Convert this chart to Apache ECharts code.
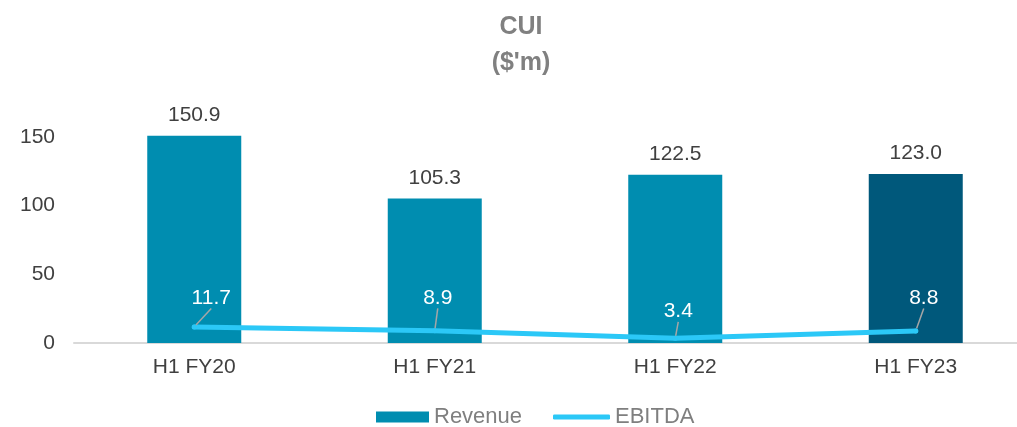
<!DOCTYPE html>
<html>
<head>
<meta charset="utf-8">
<script src="https://cdn.jsdelivr.net/npm/echarts@6/dist/echarts.min.js"></script>
<style>
  html, body { margin: 0; padding: 0; background: #ffffff; }
  #chart { width: 1017px; height: 427px; }
</style>
</head>
<body>
<div id="chart"></div>
<script>
// data
var periods = ['H1 FY20', 'H1 FY21', 'H1 FY22', 'H1 FY23']
var revenue = [150.9, 105.3, 122.5, 123.0]
var ebitda = [11.7, 8.9, 3.4, 8.8]
var yTicks = [0, 50, 100, 150]

// label nudges for the EBITDA call-outs
var labelShift = [[17, -11], [3, -15], [3, -9], [8, -15]]

var font = 'Liberation Sans, Arial, sans-serif'
var legendText = { fontFamily: font, fontSize: 22, color: '#7f7f7f' }
var myChart = echarts.init(document.getElementById('chart'))

myChart.setOption({
  animation: false,
  textStyle: { fontFamily: font },
  title: {
    text: 'CUI\n($\'m)',
    left: 521, // title sits a bit right of the page centre
    top: 9,
    padding: 0,
    textAlign: 'center',
    textStyle: {
      fontFamily: font,
      fontSize: 25,
      fontWeight: 'bold',
      color: '#808080',
      lineHeight: 36
    }
  },
  legend: [{
    left: 371,
    top: 401,
    itemWidth: 53,
    itemHeight: 11,
    textStyle: legendText,
    data: [{ name: 'Revenue', icon: 'rect' }]
  }, {
    left: 548,
    top: 401,
    itemWidth: 57,
    itemHeight: 5,
    textStyle: legendText,
    data: [{ name: 'EBITDA', icon: 'roundRect' }]
  }],
  grid: {
    left: 74,
    width: 962,
    top: 137,
    bottom: 84,
    outerBoundsMode: 'none'
  },
  xAxis: {
    type: 'category',
    data: periods,
    axisTick: { show: false },
    axisLine: { lineStyle: { color: '#d9d9d9', width: 2 } },
    axisLabel: { fontFamily: font, fontSize: 21, color: '#404040', margin: 14 }
  },
  yAxis: {
    type: 'value',
    min: yTicks[0],
    max: yTicks[yTicks.length - 1],
    interval: 50,
    splitLine: { show: false },
    axisLine: { show: false },
    axisTick: { show: false },
    axisLabel: { fontFamily: font, fontSize: 21, color: '#404040', margin: 19 }
  },
  series: [
    {
      name: 'Revenue',
      type: 'bar',
      barWidth: 94,
      clip: false,
      itemStyle: { color: '#008db0' },
      label: {
        show: true,
        position: 'top',
        distance: 10,
        fontFamily: font,
        fontSize: 21,
        color: '#404040',
        formatter: function (p) { return p.value.toFixed(1) }
      },
      data: revenue.map(function (v, i) {
        return i === revenue.length - 1
          ? { value: v, itemStyle: { color: '#00587b' } }
          : v
      })
    },
    {
      name: 'EBITDA',
      type: 'line',
      symbol: 'circle',
      symbolSize: 5,
      z: 5,
      itemStyle: { color: '#2bc8f7' },
      lineStyle: { color: '#2bc8f7', width: 5, cap: 'round' },
      label: {
        show: true,
        position: 'top',
        fontFamily: font,
        fontSize: 21,
        color: '#ffffff',
        formatter: function (p) { return p.value.toFixed(1) }
      },
      labelLine: {
        show: true,
        lineStyle: { color: '#a6a6a6', width: 1.5 }
      },
      labelLayout: function (params) {
        var s = labelShift[params.dataIndex]
        return { dx: s[0], dy: s[1] }
      },
      data: ebitda
    }
  ]
})
</script>
</body>
</html>
